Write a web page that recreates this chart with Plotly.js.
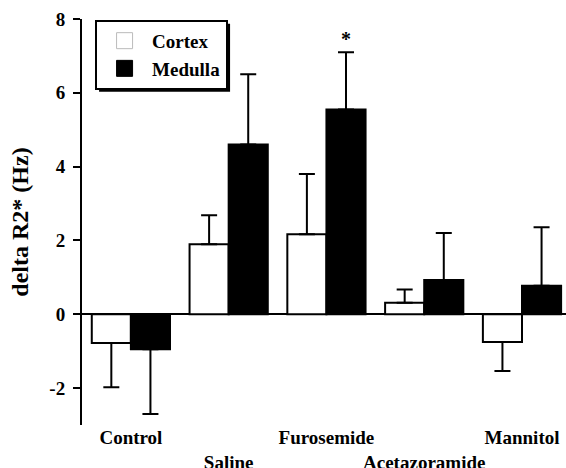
<!DOCTYPE html>
<html><head><meta charset="utf-8">
<script src="https://cdn.plot.ly/plotly-3.0.1.min.js"></script>
<style>html,body{margin:0;padding:0;background:#fff}</style>
</head><body><div id="chart" style="width:566px;height:468px"></div>
<script>
var categories = ["Control", "Saline", "Furosemide", "Acetazoramide", "Mannitol"];
var tickLabels = ["Control", "<br>Saline", "Furosemide", "<br>Acetazoramide", "Mannitol"];
var cortex = [-0.78, 1.9, 2.17, 0.31, -0.75];
var cortexErr = [1.2, 0.78, 1.63, 0.36, 0.79];
var medulla = [-0.95, 4.6, 5.55, 0.93, 0.77];
var medullaErr = [1.75, 1.9, 1.55, 1.27, 1.59];
var yTicks = [-2, 0, 2, 4, 6, 8];
var xIdx = categories.map(function(_, i){ return i; });

function upErr(v, e){ return v.map(function(val, i){ return val >= 0 ? e[i] : 0; }); }
function downErr(v, e){ return v.map(function(val, i){ return val < 0 ? e[i] : 0; }); }

var fam = "Liberation Serif";
function f(size){ return {family: fam, size: size, color: "#000", weight: "bold"}; }

var traces = [
  {type: "bar", name: "Cortex", x: xIdx, y: cortex, showlegend: false,
   marker: {color: "#fff", line: {color: "#000", width: 2}},
   error_y: {type: "data", symmetric: false, array: upErr(cortex, cortexErr), arrayminus: downErr(cortex, cortexErr),
             color: "#000", thickness: 2, width: 8}},
  {type: "bar", name: "Medulla", x: xIdx, y: medulla, showlegend: false,
   marker: {color: "#000", line: {color: "#000", width: 2}},
   error_y: {type: "data", symmetric: false, array: upErr(medulla, medullaErr), arrayminus: downErr(medulla, medullaErr),
             color: "#000", thickness: 2, width: 8}},
  {type: "scatter", mode: "markers", name: "Cortex", x: [null], y: [null],
   marker: {symbol: "square", size: 16, color: "#fff", line: {color: "#bbb", width: 1}}},
  {type: "scatter", mode: "markers", name: "Medulla", x: [null], y: [null],
   marker: {symbol: "square", size: 16, color: "#000", line: {color: "#000", width: 1}}}
];

var layout = {
  width: 566, height: 468,
  margin: {l: 82, r: 0, t: 19, b: 43},
  paper_bgcolor: "#fff", plot_bgcolor: "#fff",
  font: f(19),
  barmode: "group", bargap: 0.2, bargroupgap: 0,
  showlegend: true,
  legend: {x: 0.027, y: 0.998, xanchor: "left", yanchor: "top",
           bordercolor: "#000", borderwidth: 2, bgcolor: "#fff",
           font: f(19), tracegroupgap: 0, itemwidth: 45},
  xaxis: {range: [-0.5, 4.45], tickvals: xIdx, ticktext: tickLabels, tickangle: 0,
          showline: false, showgrid: false, zeroline: false, ticks: "",
          tickfont: f(19), ticklabelstandoff: -1, fixedrange: true},
  yaxis: {range: [-3, 8], tickvals: yTicks, ticktext: yTicks.map(String),
          showline: true, linecolor: "#000", linewidth: 2,
          ticks: "outside", ticklen: 7, tickwidth: 2, tickcolor: "#000",
          showgrid: false, zeroline: true, zerolinecolor: "#000", zerolinewidth: 2,
          tickfont: f(19), ticklabelstandoff: 4,
          title: {text: "delta R2* (Hz)", font: f(24), standoff: 14}},
  annotations: [
    {x: 2.2, y: medulla[2] + medullaErr[2], xref: "x", yref: "y", text: "*", showarrow: false,
     yanchor: "bottom", font: f(20)}
  ]
};

var gd = document.getElementById("chart");
Plotly.newPlot(gd, traces, layout, {displayModeBar: false, staticPlot: true}).then(function(){
  // drop shadow behind the legend box, derived from the rendered legend
  var bg = gd.querySelector(".legend .bg");
  if (!bg) return;
  var r = bg.getBoundingClientRect(), g = gd.getBoundingClientRect();
  var s = gd._fullLayout._size, off = 3;
  var px = function(x){ return (x - g.left - s.l) / s.w; };
  var py = function(y){ return 1 - (y - g.top - s.t) / s.h; };
  return Plotly.relayout(gd, {shapes: [{
    type: "rect", xref: "paper", yref: "paper", layer: "above",
    x0: px(r.left + off), x1: px(r.right + off), y0: py(r.bottom + off), y1: py(r.top + off),
    fillcolor: "#000", line: {width: 0}
  }]});
});
</script></body></html>
